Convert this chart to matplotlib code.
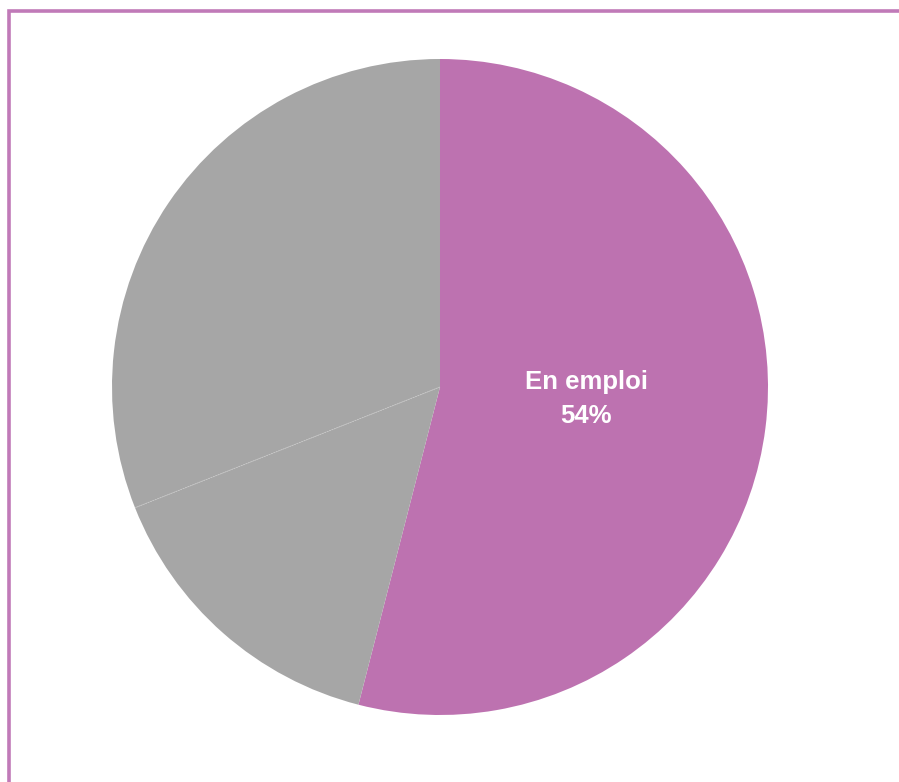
import matplotlib
matplotlib.use("Agg")
import matplotlib.pyplot as plt
import numpy as np
from matplotlib.patches import Rectangle

labels = ["En emploi", "Autre 1", "Autre 2"]
values = [54, 15, 31]
colors = ["#BD72B0", "#A6A6A6", "#A6A6A6"]
show_label = [True, False, False]

fig = plt.figure(figsize=(8.99, 7.82), dpi=100)
fig.patches.append(Rectangle((8.5/899, -0.1), 1.2, (782-11)/782 + 0.1, transform=fig.transFigure,
                             fill=False, edgecolor="#C07AB8", linewidth=2.6))

cx, cy, r = 440, 387, 328
ax = fig.add_axes([(cx - r)/899, (782 - cy - r)/782, 2*r/899, 2*r/782])
wedges, _ = ax.pie(values, colors=colors, startangle=90, counterclock=False,
                   wedgeprops=dict(linewidth=0), radius=1)
ax.set_xlim(-1, 1); ax.set_ylim(-1, 1)
ax.set_aspect("equal"); ax.axis("off")

# faint separator between the two gray slices
t = np.deg2rad(wedges[2].theta2)
ax.plot([0, np.cos(t)], [0, np.sin(t)], color="#C8C8C8", lw=0.6, ls=(0, (2, 1)))

for w, lab, v, s in zip(wedges, labels, values, show_label):
    if not s:
        continue
    mid = np.deg2rad((w.theta1 + w.theta2) / 2)
    d = 0.45
    ax.text(d*np.cos(mid), d*np.sin(mid) + 0.02, f"{lab}\n{v}%", ha="center", va="center",
            color="white", fontsize=18.5, fontweight="bold", linespacing=1.5,
            family=["Liberation Sans Narrow", "Liberation Sans", "DejaVu Sans"])

fig.savefig("out.png", dpi=100)
